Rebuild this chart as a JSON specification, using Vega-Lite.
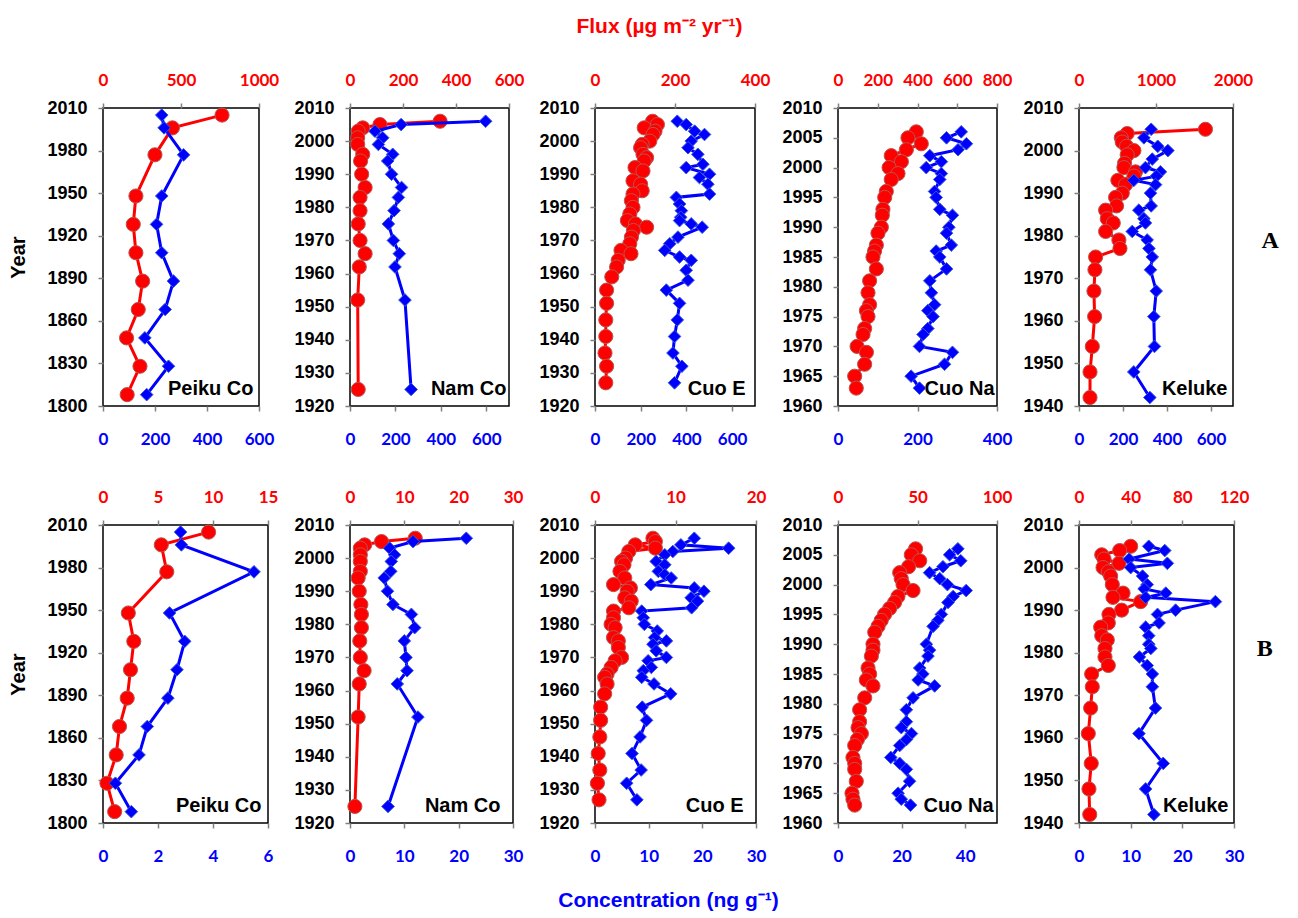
{
  "$schema": "https://vega.github.io/schema/vega-lite/v6.json",
  "padding": {"left": 8, "top": 14, "right": 5, "bottom": 5},
  "background": "#ffffff",
  "columns": 5,
  "bounds": "flush",
  "spacing": {"row": 119, "column": 82},
  "config": {
    "view": {"stroke": "#000000", "strokeWidth": 1.5},
    "mark": {"invalid": "filter"},
    "axis": {"domain": false, "grid": false, "ticks": true, "tickColor": "#808080", "tickWidth": 1.5, "tickSize": 5, "labelFontWeight": "bold", "labelOverlap": false, "labelFlush": false, "format": "d"},
    "axisY": {"labelFont": "Liberation Sans", "labelFontSize": 18, "labelColor": "#000000", "labelPadding": 11, "titleFont": "Liberation Sans", "titleFontSize": 20, "titleFontWeight": "bold", "titleColor": "#000000", "titlePadding": 18},
    "axisX": {"labelFont": "Lato", "labelFontSize": 17},
    "axisBottom": {"labelColor": "#0000ff", "labelPadding": 20, "titleFont": "Liberation Sans", "titleFontSize": 20, "titleFontWeight": "bold", "titleColor": "#000000", "titleAlign": "right", "titleBaseline": "bottom", "titleY": -8},
    "axisTop": {"labelColor": "#ff0000", "labelPadding": 14}
  },
  "concat": [
    {
      "width": 156, "height": 298,
      "data": {"values": [
        {"year": 2005, "flux": 763, "conc": 226}, {"year": 1996, "flux": 445, "conc": 235}, {"year": 1977, "flux": 333, "conc": 310},
        {"year": 1948, "flux": 211, "conc": 226}, {"year": 1928, "flux": 194, "conc": 206}, {"year": 1908, "flux": 211, "conc": 226},
        {"year": 1888, "flux": 254, "conc": 271}, {"year": 1868, "flux": 226, "conc": 239}, {"year": 1848, "flux": 151, "conc": 161},
        {"year": 1828, "flux": 237, "conc": 252}, {"year": 1808, "flux": 155, "conc": 168}
      ]},
      "encoding": {"y": {"field": "year", "type": "quantitative", "scale": {"domain": [1800, 2010], "nice": false, "zero": false}, "axis": {"values": [1800, 1830, 1860, 1890, 1920, 1950, 1980, 2010], "title": "Year"}}},
      "layer": [
        {"encoding": {"x": {"field": "flux", "type": "quantitative", "scale": {"domain": [0, 1000], "nice": false}, "axis": {"orient": "top", "values": [0, 500, 1000], "title": null}}},
         "layer": [
          {"mark": {"type": "line", "color": "#ff0000", "strokeWidth": 3}, "encoding": {"order": {"field": "year"}}},
          {"mark": {"type": "point", "shape": "circle", "filled": true, "size": 200, "fill": "#ff0000", "stroke": "#b85450", "strokeWidth": 1, "opacity": 1}}
        ]},
        {"encoding": {"x": {"field": "conc", "type": "quantitative", "scale": {"domain": [0, 600], "nice": false}, "axis": {"orient": "bottom", "values": [0, 200, 400, 600], "title": "Peiku Co", "titleX": 150}}},
         "layer": [
          {"mark": {"type": "line", "color": "#0000ff", "strokeWidth": 3}, "encoding": {"order": {"field": "year"}}},
          {"mark": {"type": "point", "shape": "diamond", "filled": true, "size": 160, "fill": "#0000ff", "stroke": "#3a5ad8", "strokeWidth": 1, "opacity": 1}}
        ]}
      ],
      "resolve": {"scale": {"x": "independent"}}
    },
    {
      "width": 159, "height": 298,
      "data": {"values": [
        {"year": 2006, "flux": 340, "conc": 597}, {"year": 2005, "flux": 113, "conc": 225}, {"year": 2004, "flux": 48},
        {"year": 2003, "flux": 31, "conc": 110}, {"year": 2001, "flux": 29, "conc": 144}, {"year": 1999, "flux": 29, "conc": 125},
        {"year": 1996, "flux": 48, "conc": 188}, {"year": 1994, "flux": 40, "conc": 166}, {"year": 1990, "flux": 44, "conc": 183},
        {"year": 1986, "flux": 57, "conc": 227}, {"year": 1983, "flux": 38, "conc": 213}, {"year": 1979, "flux": 38, "conc": 194},
        {"year": 1975, "flux": 31, "conc": 169}, {"year": 1970, "flux": 38, "conc": 191}, {"year": 1966, "flux": 57, "conc": 217},
        {"year": 1962, "flux": 35, "conc": 198}, {"year": 1952, "flux": 29, "conc": 242}, {"year": 1925, "flux": 31, "conc": 269}
      ]},
      "encoding": {"y": {"field": "year", "type": "quantitative", "scale": {"domain": [1920, 2010], "nice": false, "zero": false}, "axis": {"values": [1920, 1930, 1940, 1950, 1960, 1970, 1980, 1990, 2000, 2010], "title": null}}},
      "layer": [
        {"encoding": {"x": {"field": "flux", "type": "quantitative", "scale": {"domain": [0, 600], "nice": false}, "axis": {"orient": "top", "values": [0, 200, 400, 600], "title": null}}},
         "layer": [
          {"mark": {"type": "line", "color": "#ff0000", "strokeWidth": 3}, "encoding": {"order": {"field": "year"}}},
          {"mark": {"type": "point", "shape": "circle", "filled": true, "size": 200, "fill": "#ff0000", "stroke": "#b85450", "strokeWidth": 1, "opacity": 1}}
        ]},
        {"encoding": {"x": {"field": "conc", "type": "quantitative", "scale": {"domain": [0, 700], "nice": false}, "axis": {"orient": "bottom", "values": [0, 200, 400, 600], "title": "Nam Co", "titleX": 156}}},
         "layer": [
          {"mark": {"type": "line", "color": "#0000ff", "strokeWidth": 3}, "encoding": {"order": {"field": "year"}}},
          {"mark": {"type": "point", "shape": "diamond", "filled": true, "size": 160, "fill": "#0000ff", "stroke": "#3a5ad8", "strokeWidth": 1, "opacity": 1}}
        ]}
      ],
      "resolve": {"scale": {"x": "independent"}}
    },
    {
      "width": 160, "height": 298,
      "data": {"values": [
        {"year": 2006, "flux": 144, "conc": 360}, {"year": 2005, "flux": 156, "conc": 399}, {"year": 2004, "flux": 123},
        {"year": 2003, "flux": 150, "conc": 436}, {"year": 2002, "flux": 145, "conc": 479}, {"year": 2000, "flux": 137, "conc": 421},
        {"year": 1999, "flux": 118}, {"year": 1998, "flux": 114, "conc": 407}, {"year": 1996, "flux": 120, "conc": 450},
        {"year": 1995, "flux": 129}, {"year": 1994, "flux": 123}, {"year": 1993, "conc": 472},
        {"year": 1992, "flux": 100, "conc": 399}, {"year": 1991, "flux": 120}, {"year": 1990, "conc": 501},
        {"year": 1989, "conc": 457}, {"year": 1988, "flux": 95}, {"year": 1987, "flux": 114, "conc": 494},
        {"year": 1985, "flux": 118}, {"year": 1984, "flux": 95, "conc": 501}, {"year": 1983, "conc": 356},
        {"year": 1982, "flux": 91}, {"year": 1981, "conc": 370}, {"year": 1980, "flux": 95},
        {"year": 1979, "conc": 378}, {"year": 1978, "flux": 87}, {"year": 1977, "conc": 375},
        {"year": 1976, "flux": 81, "conc": 370}, {"year": 1975, "flux": 101, "conc": 421}, {"year": 1974, "flux": 129, "conc": 469},
        {"year": 1973, "flux": 96}, {"year": 1971, "flux": 91, "conc": 363}, {"year": 1969, "flux": 87, "conc": 327},
        {"year": 1967, "flux": 65, "conc": 305}, {"year": 1966, "flux": 90}, {"year": 1965, "conc": 370},
        {"year": 1964, "flux": 58, "conc": 421}, {"year": 1962, "flux": 54}, {"year": 1961, "conc": 399},
        {"year": 1959, "flux": 42}, {"year": 1958, "conc": 407}, {"year": 1955, "flux": 29, "conc": 312},
        {"year": 1951, "flux": 29, "conc": 370}, {"year": 1946, "flux": 27, "conc": 360}, {"year": 1941, "flux": 27, "conc": 348},
        {"year": 1936, "flux": 25, "conc": 341}, {"year": 1932, "flux": 29, "conc": 380}, {"year": 1927, "flux": 27, "conc": 348}
      ]},
      "encoding": {"y": {"field": "year", "type": "quantitative", "scale": {"domain": [1920, 2010], "nice": false, "zero": false}, "axis": {"values": [1920, 1930, 1940, 1950, 1960, 1970, 1980, 1990, 2000, 2010], "title": null}}},
      "layer": [
        {"encoding": {"x": {"field": "flux", "type": "quantitative", "scale": {"domain": [0, 400], "nice": false}, "axis": {"orient": "top", "values": [0, 200, 400], "title": "Flux (µg m⁻² yr⁻¹)", "titleColor": "#ff0000", "titleFont": "Liberation Sans", "titleFontSize": 21, "titleFontWeight": "bold", "titleX": 64, "titleY": -82, "titleAlign": "center", "titleBaseline": "middle"}}},
         "layer": [
          {"mark": {"type": "line", "color": "#ff0000", "strokeWidth": 3}, "encoding": {"order": {"field": "year"}}},
          {"mark": {"type": "point", "shape": "circle", "filled": true, "size": 200, "fill": "#ff0000", "stroke": "#b85450", "strokeWidth": 1, "opacity": 1}}
        ]},
        {"encoding": {"x": {"field": "conc", "type": "quantitative", "scale": {"domain": [0, 700], "nice": false}, "axis": {"orient": "bottom", "values": [0, 200, 400, 600], "title": "Cuo E", "titleX": 150}}},
         "layer": [
          {"mark": {"type": "line", "color": "#0000ff", "strokeWidth": 3}, "encoding": {"order": {"field": "year"}}},
          {"mark": {"type": "point", "shape": "diamond", "filled": true, "size": 160, "fill": "#0000ff", "stroke": "#3a5ad8", "strokeWidth": 1, "opacity": 1}}
        ]}
      ],
      "resolve": {"scale": {"x": "independent"}}
    },
    {
      "width": 159, "height": 298,
      "data": {"values": [
        {"year": 2006, "flux": 394, "conc": 310}, {"year": 2005, "flux": 352, "conc": 273}, {"year": 2004, "flux": 419, "conc": 323},
        {"year": 2003, "flux": 344, "conc": 302}, {"year": 2002, "flux": 268, "conc": 231}, {"year": 2001, "flux": 319, "conc": 260},
        {"year": 2000, "flux": 257, "conc": 222}, {"year": 1999, "flux": 302, "conc": 260}, {"year": 1998, "flux": 268, "conc": 256},
        {"year": 1996, "flux": 243, "conc": 243}, {"year": 1995, "flux": 235, "conc": 247}, {"year": 1993, "flux": 226, "conc": 256},
        {"year": 1992, "flux": 223, "conc": 288}, {"year": 1990, "flux": 218, "conc": 279}, {"year": 1989, "flux": 201, "conc": 273},
        {"year": 1987, "flux": 193, "conc": 285}, {"year": 1986, "flux": 184, "conc": 247}, {"year": 1985, "flux": 176, "conc": 256},
        {"year": 1983, "flux": 193, "conc": 273}, {"year": 1981, "flux": 159, "conc": 231}, {"year": 1979, "flux": 151, "conc": 235},
        {"year": 1977, "flux": 159, "conc": 243}, {"year": 1976, "flux": 143, "conc": 226}, {"year": 1975, "flux": 151, "conc": 239},
        {"year": 1973, "flux": 134, "conc": 226}, {"year": 1972, "flux": 126, "conc": 214}, {"year": 1970, "flux": 96, "conc": 205},
        {"year": 1969, "flux": 143, "conc": 288}, {"year": 1967, "flux": 134, "conc": 268}, {"year": 1965, "flux": 84, "conc": 184},
        {"year": 1963, "flux": 92, "conc": 205}
      ]},
      "encoding": {"y": {"field": "year", "type": "quantitative", "scale": {"domain": [1960, 2010], "nice": false, "zero": false}, "axis": {"values": [1960, 1965, 1970, 1975, 1980, 1985, 1990, 1995, 2000, 2005, 2010], "title": null}}},
      "layer": [
        {"encoding": {"x": {"field": "flux", "type": "quantitative", "scale": {"domain": [0, 800], "nice": false}, "axis": {"orient": "top", "values": [0, 200, 400, 600, 800], "title": null}}},
         "layer": [
          {"mark": {"type": "line", "color": "#ff0000", "strokeWidth": 3}, "encoding": {"order": {"field": "year"}}},
          {"mark": {"type": "point", "shape": "circle", "filled": true, "size": 200, "fill": "#ff0000", "stroke": "#b85450", "strokeWidth": 1, "opacity": 1}}
        ]},
        {"encoding": {"x": {"field": "conc", "type": "quantitative", "scale": {"domain": [0, 400], "nice": false}, "axis": {"orient": "bottom", "values": [0, 200, 400], "title": "Cuo Na", "titleX": 156}}},
         "layer": [
          {"mark": {"type": "line", "color": "#0000ff", "strokeWidth": 3}, "encoding": {"order": {"field": "year"}}},
          {"mark": {"type": "point", "shape": "diamond", "filled": true, "size": 160, "fill": "#0000ff", "stroke": "#3a5ad8", "strokeWidth": 1, "opacity": 1}}
        ]}
      ],
      "resolve": {"scale": {"x": "independent"}}
    },
    {
      "width": 154, "height": 298,
      "title": {"text": "A", "orient": "right", "angle": 0, "anchor": "middle", "frame": "group", "offset": 0, "font": "Liberation Serif", "fontSize": 24, "fontWeight": "bold", "color": "#000000", "dy": -28},
      "data": {"values": [
        {"year": 2005, "flux": 1642, "conc": 328}, {"year": 2004, "flux": 626}, {"year": 2003, "flux": 549, "conc": 295},
        {"year": 2002, "flux": 562}, {"year": 2001, "flux": 618, "conc": 358}, {"year": 2000, "flux": 713, "conc": 404},
        {"year": 1999, "flux": 626}, {"year": 1998, "conc": 333}, {"year": 1997, "flux": 592},
        {"year": 1996, "flux": 583, "conc": 302}, {"year": 1995, "flux": 734, "conc": 370}, {"year": 1994, "flux": 713, "conc": 352},
        {"year": 1993, "flux": 505, "conc": 249}, {"year": 1992, "flux": 605, "conc": 348}, {"year": 1990, "flux": 562, "conc": 325},
        {"year": 1989, "flux": 475}, {"year": 1987, "flux": 488, "conc": 328}, {"year": 1986, "flux": 346, "conc": 272},
        {"year": 1984, "flux": 367, "conc": 295}, {"year": 1983, "flux": 445, "conc": 302}, {"year": 1981, "flux": 346, "conc": 242},
        {"year": 1979, "flux": 518, "conc": 310}, {"year": 1977, "flux": 532, "conc": 318}, {"year": 1975, "flux": 216, "conc": 333},
        {"year": 1972, "flux": 207, "conc": 325}, {"year": 1967, "flux": 194, "conc": 351}, {"year": 1961, "flux": 203, "conc": 340},
        {"year": 1954, "flux": 173, "conc": 343}, {"year": 1948, "flux": 143, "conc": 249}, {"year": 1942, "flux": 143, "conc": 322}
      ]},
      "encoding": {"y": {"field": "year", "type": "quantitative", "scale": {"domain": [1940, 2010], "nice": false, "zero": false}, "axis": {"values": [1940, 1950, 1960, 1970, 1980, 1990, 2000, 2010], "title": null}}},
      "layer": [
        {"encoding": {"x": {"field": "flux", "type": "quantitative", "scale": {"domain": [0, 2000], "nice": false}, "axis": {"orient": "top", "values": [0, 1000, 2000], "title": null}}},
         "layer": [
          {"mark": {"type": "line", "color": "#ff0000", "strokeWidth": 3}, "encoding": {"order": {"field": "year"}}},
          {"mark": {"type": "point", "shape": "circle", "filled": true, "size": 200, "fill": "#ff0000", "stroke": "#b85450", "strokeWidth": 1, "opacity": 1}}
        ]},
        {"encoding": {"x": {"field": "conc", "type": "quantitative", "scale": {"domain": [0, 700], "nice": false}, "axis": {"orient": "bottom", "values": [0, 200, 400, 600], "title": "Keluke", "titleX": 148}}},
         "layer": [
          {"mark": {"type": "line", "color": "#0000ff", "strokeWidth": 3}, "encoding": {"order": {"field": "year"}}},
          {"mark": {"type": "point", "shape": "diamond", "filled": true, "size": 160, "fill": "#0000ff", "stroke": "#3a5ad8", "strokeWidth": 1, "opacity": 1}}
        ]}
      ],
      "resolve": {"scale": {"x": "independent"}}
    },
    {
      "width": 165, "height": 298,
      "data": {"values": [
        {"year": 2005, "flux": 9.6, "conc": 2.82}, {"year": 1996, "flux": 5.3, "conc": 2.85}, {"year": 1977, "flux": 5.8, "conc": 5.49},
        {"year": 1948, "flux": 2.3, "conc": 2.42}, {"year": 1928, "flux": 2.8, "conc": 2.97}, {"year": 1908, "flux": 2.5, "conc": 2.69},
        {"year": 1888, "flux": 2.2, "conc": 2.36}, {"year": 1868, "flux": 1.5, "conc": 1.61}, {"year": 1848, "flux": 1.2, "conc": 1.31},
        {"year": 1828, "flux": 0.36, "conc": 0.45}, {"year": 1808, "flux": 1.06, "conc": 1.03}
      ]},
      "encoding": {"y": {"field": "year", "type": "quantitative", "scale": {"domain": [1800, 2010], "nice": false, "zero": false}, "axis": {"values": [1800, 1830, 1860, 1890, 1920, 1950, 1980, 2010], "title": "Year"}}},
      "layer": [
        {"encoding": {"x": {"field": "flux", "type": "quantitative", "scale": {"domain": [0, 15], "nice": false}, "axis": {"orient": "top", "values": [0, 5, 10, 15], "title": null}}},
         "layer": [
          {"mark": {"type": "line", "color": "#ff0000", "strokeWidth": 3}, "encoding": {"order": {"field": "year"}}},
          {"mark": {"type": "point", "shape": "circle", "filled": true, "size": 200, "fill": "#ff0000", "stroke": "#b85450", "strokeWidth": 1, "opacity": 1}}
        ]},
        {"encoding": {"x": {"field": "conc", "type": "quantitative", "scale": {"domain": [0, 6], "nice": false}, "axis": {"orient": "bottom", "values": [0, 2, 4, 6], "title": "Peiku Co", "titleX": 158}}},
         "layer": [
          {"mark": {"type": "line", "color": "#0000ff", "strokeWidth": 3}, "encoding": {"order": {"field": "year"}}},
          {"mark": {"type": "point", "shape": "diamond", "filled": true, "size": 160, "fill": "#0000ff", "stroke": "#3a5ad8", "strokeWidth": 1, "opacity": 1}}
        ]}
      ],
      "resolve": {"scale": {"x": "independent"}}
    },
    {
      "width": 163, "height": 298,
      "data": {"values": [
        {"year": 2006, "flux": 12.0, "conc": 21.4}, {"year": 2005, "flux": 5.8, "conc": 11.6}, {"year": 2004, "flux": 2.7},
        {"year": 2003, "flux": 1.9, "conc": 7.3}, {"year": 2001, "flux": 1.9, "conc": 8.2}, {"year": 1999, "flux": 1.9, "conc": 7.6},
        {"year": 1996, "flux": 1.9, "conc": 7.5}, {"year": 1994, "flux": 1.5, "conc": 6.3}, {"year": 1990, "flux": 1.7, "conc": 6.9},
        {"year": 1986, "flux": 2.0, "conc": 7.9}, {"year": 1983, "flux": 2.1, "conc": 11.3}, {"year": 1979, "flux": 2.1, "conc": 11.9},
        {"year": 1975, "flux": 1.8, "conc": 10.0}, {"year": 1970, "flux": 1.9, "conc": 10.3}, {"year": 1966, "flux": 2.6, "conc": 10.5},
        {"year": 1962, "flux": 1.7, "conc": 8.7}, {"year": 1952, "flux": 1.5, "conc": 12.5}, {"year": 1925, "flux": 0.9, "conc": 7.0}
      ]},
      "encoding": {"y": {"field": "year", "type": "quantitative", "scale": {"domain": [1920, 2010], "nice": false, "zero": false}, "axis": {"values": [1920, 1930, 1940, 1950, 1960, 1970, 1980, 1990, 2000, 2010], "title": null}}},
      "layer": [
        {"encoding": {"x": {"field": "flux", "type": "quantitative", "scale": {"domain": [0, 30], "nice": false}, "axis": {"orient": "top", "values": [0, 10, 20, 30], "title": null}}},
         "layer": [
          {"mark": {"type": "line", "color": "#ff0000", "strokeWidth": 3}, "encoding": {"order": {"field": "year"}}},
          {"mark": {"type": "point", "shape": "circle", "filled": true, "size": 200, "fill": "#ff0000", "stroke": "#b85450", "strokeWidth": 1, "opacity": 1}}
        ]},
        {"encoding": {"x": {"field": "conc", "type": "quantitative", "scale": {"domain": [0, 30], "nice": false}, "axis": {"orient": "bottom", "values": [0, 10, 20, 30], "title": "Nam Co", "titleX": 150}}},
         "layer": [
          {"mark": {"type": "line", "color": "#0000ff", "strokeWidth": 3}, "encoding": {"order": {"field": "year"}}},
          {"mark": {"type": "point", "shape": "diamond", "filled": true, "size": 160, "fill": "#0000ff", "stroke": "#3a5ad8", "strokeWidth": 1, "opacity": 1}}
        ]}
      ],
      "resolve": {"scale": {"x": "independent"}}
    },
    {
      "width": 161, "height": 298,
      "data": {"values": [
        {"year": 2006, "flux": 7.2, "conc": 18.5}, {"year": 2005, "flux": 7.5}, {"year": 2004, "flux": 5.0, "conc": 16.0},
        {"year": 2003, "flux": 7.5, "conc": 24.9}, {"year": 2002, "flux": 4.2, "conc": 14.5}, {"year": 2001, "conc": 13.0},
        {"year": 2000, "flux": 3.8}, {"year": 1999, "flux": 3.3, "conc": 11.4}, {"year": 1998, "flux": 3.6, "conc": 13.0},
        {"year": 1996, "flux": 3.1, "conc": 11.8}, {"year": 1995, "conc": 13.0}, {"year": 1994, "flux": 3.7, "conc": 14.2},
        {"year": 1992, "flux": 2.3, "conc": 10.4}, {"year": 1991, "flux": 4.4, "conc": 18.5}, {"year": 1990, "flux": 4.0, "conc": 20.3},
        {"year": 1988, "flux": 3.7, "conc": 17.9}, {"year": 1987, "flux": 4.5, "conc": 19.1}, {"year": 1985, "flux": 4.2, "conc": 18.0},
        {"year": 1984, "flux": 2.3, "conc": 8.7}, {"year": 1982, "flux": 2.3, "conc": 9.0}, {"year": 1980, "flux": 2.0, "conc": 9.2},
        {"year": 1979, "flux": 2.5}, {"year": 1978, "conc": 11.6}, {"year": 1976, "flux": 2.3, "conc": 11.1},
        {"year": 1975, "flux": 2.9, "conc": 13.3}, {"year": 1974, "conc": 10.8}, {"year": 1973, "flux": 2.9},
        {"year": 1972, "conc": 11.4}, {"year": 1970, "flux": 3.3, "conc": 13.3}, {"year": 1969, "flux": 2.5, "conc": 9.9},
        {"year": 1967, "flux": 2.0, "conc": 10.5}, {"year": 1966, "conc": 9.0}, {"year": 1965, "flux": 1.5},
        {"year": 1964, "flux": 1.2, "conc": 8.7}, {"year": 1962, "flux": 1.5, "conc": 11.0}, {"year": 1959, "flux": 1.2, "conc": 14.1},
        {"year": 1955, "flux": 0.7, "conc": 8.8}, {"year": 1951, "flux": 0.7, "conc": 9.6}, {"year": 1946, "flux": 0.6, "conc": 8.4},
        {"year": 1941, "flux": 0.4, "conc": 6.9}, {"year": 1936, "flux": 0.6, "conc": 8.6}, {"year": 1932, "flux": 0.3, "conc": 5.9},
        {"year": 1927, "flux": 0.5, "conc": 7.8}
      ]},
      "encoding": {"y": {"field": "year", "type": "quantitative", "scale": {"domain": [1920, 2010], "nice": false, "zero": false}, "axis": {"values": [1920, 1930, 1940, 1950, 1960, 1970, 1980, 1990, 2000, 2010], "title": "Concentration (ng g⁻¹)", "titleAngle": 0, "titleColor": "#0000ff", "titleFontSize": 21, "titleX": 73, "titleY": 375, "titleAlign": "center", "titleBaseline": "middle"}}},
      "layer": [
        {"encoding": {"x": {"field": "flux", "type": "quantitative", "scale": {"domain": [0, 20], "nice": false}, "axis": {"orient": "top", "values": [0, 10, 20], "title": null}}},
         "layer": [
          {"mark": {"type": "line", "color": "#ff0000", "strokeWidth": 3}, "encoding": {"order": {"field": "year"}}},
          {"mark": {"type": "point", "shape": "circle", "filled": true, "size": 200, "fill": "#ff0000", "stroke": "#b85450", "strokeWidth": 1, "opacity": 1}}
        ]},
        {"encoding": {"x": {"field": "conc", "type": "quantitative", "scale": {"domain": [0, 30], "nice": false}, "axis": {"orient": "bottom", "values": [0, 10, 20, 30], "title": "Cuo E", "titleX": 148}}},
         "layer": [
          {"mark": {"type": "line", "color": "#0000ff", "strokeWidth": 3}, "encoding": {"order": {"field": "year"}}},
          {"mark": {"type": "point", "shape": "diamond", "filled": true, "size": 160, "fill": "#0000ff", "stroke": "#3a5ad8", "strokeWidth": 1, "opacity": 1}}
        ]}
      ],
      "resolve": {"scale": {"x": "independent"}}
    },
    {
      "width": 159, "height": 298,
      "data": {"values": [
        {"year": 2006, "flux": 48.8, "conc": 37.7}, {"year": 2005, "flux": 46.1, "conc": 35.1}, {"year": 2004, "flux": 51.4, "conc": 38.6},
        {"year": 2003, "flux": 44.4, "conc": 33.0}, {"year": 2002, "flux": 38.8, "conc": 28.8}, {"year": 2001, "flux": 39.8, "conc": 32.0},
        {"year": 2000, "flux": 40.9, "conc": 34.4}, {"year": 1999, "flux": 47.2, "conc": 40.3}, {"year": 1998, "flux": 37.7, "conc": 36.2},
        {"year": 1997, "flux": 35.6, "conc": 34.6}, {"year": 1996, "flux": 32.5}, {"year": 1995, "flux": 29.3, "conc": 32.5},
        {"year": 1994, "flux": 27.2, "conc": 31.4}, {"year": 1993, "flux": 25.2, "conc": 29.9}, {"year": 1992, "flux": 23.1},
        {"year": 1990, "flux": 22.0, "conc": 27.8}, {"year": 1989, "flux": 22.0, "conc": 28.8}, {"year": 1988, "flux": 21.0, "conc": 28.3},
        {"year": 1986, "flux": 18.9, "conc": 25.7}, {"year": 1985, "flux": 19.9, "conc": 26.7}, {"year": 1984, "flux": 17.8, "conc": 25.2},
        {"year": 1983, "flux": 22.0, "conc": 30.4}, {"year": 1981, "flux": 16.8, "conc": 23.6}, {"year": 1979, "flux": 13.6, "conc": 21.5},
        {"year": 1977, "flux": 13.6, "conc": 21.5}, {"year": 1976, "flux": 12.6, "conc": 19.9}, {"year": 1975, "flux": 14.7, "conc": 23.1},
        {"year": 1974, "flux": 12.2, "conc": 21.5}, {"year": 1973, "flux": 10.5, "conc": 19.4}, {"year": 1971, "flux": 9.4, "conc": 16.6},
        {"year": 1970, "flux": 10.5, "conc": 19.4}, {"year": 1969, "flux": 10.5, "conc": 21.5}, {"year": 1967, "flux": 11.5, "conc": 22.5},
        {"year": 1965, "flux": 8.8, "conc": 18.9}, {"year": 1964, "flux": 9.4, "conc": 19.9}, {"year": 1963, "flux": 10.5, "conc": 22.8}
      ]},
      "encoding": {"y": {"field": "year", "type": "quantitative", "scale": {"domain": [1960, 2010], "nice": false, "zero": false}, "axis": {"values": [1960, 1965, 1970, 1975, 1980, 1985, 1990, 1995, 2000, 2005, 2010], "title": null}}},
      "layer": [
        {"encoding": {"x": {"field": "flux", "type": "quantitative", "scale": {"domain": [0, 100], "nice": false}, "axis": {"orient": "top", "values": [0, 50, 100], "title": null}}},
         "layer": [
          {"mark": {"type": "line", "color": "#ff0000", "strokeWidth": 3}, "encoding": {"order": {"field": "year"}}},
          {"mark": {"type": "point", "shape": "circle", "filled": true, "size": 200, "fill": "#ff0000", "stroke": "#b85450", "strokeWidth": 1, "opacity": 1}}
        ]},
        {"encoding": {"x": {"field": "conc", "type": "quantitative", "scale": {"domain": [0, 50], "nice": false}, "axis": {"orient": "bottom", "values": [0, 20, 40], "title": "Cuo Na", "titleX": 155}}},
         "layer": [
          {"mark": {"type": "line", "color": "#0000ff", "strokeWidth": 3}, "encoding": {"order": {"field": "year"}}},
          {"mark": {"type": "point", "shape": "diamond", "filled": true, "size": 160, "fill": "#0000ff", "stroke": "#3a5ad8", "strokeWidth": 1, "opacity": 1}}
        ]}
      ],
      "resolve": {"scale": {"x": "independent"}}
    },
    {
      "width": 155, "height": 298,
      "title": {"text": "B", "orient": "right", "angle": 0, "anchor": "middle", "frame": "group", "offset": 0, "font": "Liberation Serif", "fontSize": 24, "fontWeight": "bold", "color": "#000000", "dy": -37},
      "data": {"values": [
        {"year": 2005, "flux": 40.0, "conc": 13.5}, {"year": 2004, "flux": 31.5, "conc": 16.6}, {"year": 2003, "flux": 17.6},
        {"year": 2002, "flux": 19.4, "conc": 9.7}, {"year": 2001, "flux": 31.0, "conc": 17.1}, {"year": 2000, "flux": 18.6, "conc": 10.0},
        {"year": 1999, "flux": 22.7}, {"year": 1998, "flux": 24.5, "conc": 12.3}, {"year": 1996, "flux": 25.8, "conc": 13.2},
        {"year": 1995, "conc": 12.6}, {"year": 1994, "flux": 34.1, "conc": 16.8}, {"year": 1993, "flux": 26.3, "conc": 12.9},
        {"year": 1992, "flux": 47.7, "conc": 26.4}, {"year": 1990, "flux": 33.0, "conc": 18.7}, {"year": 1989, "flux": 23.2, "conc": 15.2},
        {"year": 1987, "flux": 22.7, "conc": 15.5}, {"year": 1986, "flux": 16.8, "conc": 12.9}, {"year": 1984, "flux": 17.6, "conc": 13.5},
        {"year": 1983, "flux": 21.9}, {"year": 1982, "conc": 13.5}, {"year": 1981, "flux": 20.1, "conc": 13.9},
        {"year": 1979, "flux": 20.1, "conc": 11.7}, {"year": 1977, "flux": 22.7, "conc": 13.2}, {"year": 1975, "flux": 9.8, "conc": 14.2},
        {"year": 1972, "flux": 10.3, "conc": 14.2}, {"year": 1967, "flux": 9.0, "conc": 14.8}, {"year": 1961, "flux": 7.2, "conc": 11.6},
        {"year": 1954, "flux": 9.5, "conc": 16.3}, {"year": 1948, "flux": 7.7, "conc": 12.9}, {"year": 1942, "flux": 8.3, "conc": 14.5}
      ]},
      "encoding": {"y": {"field": "year", "type": "quantitative", "scale": {"domain": [1940, 2010], "nice": false, "zero": false}, "axis": {"values": [1940, 1950, 1960, 1970, 1980, 1990, 2000, 2010], "title": null}}},
      "layer": [
        {"encoding": {"x": {"field": "flux", "type": "quantitative", "scale": {"domain": [0, 120], "nice": false}, "axis": {"orient": "top", "values": [0, 40, 80, 120], "title": null}}},
         "layer": [
          {"mark": {"type": "line", "color": "#ff0000", "strokeWidth": 3}, "encoding": {"order": {"field": "year"}}},
          {"mark": {"type": "point", "shape": "circle", "filled": true, "size": 200, "fill": "#ff0000", "stroke": "#b85450", "strokeWidth": 1, "opacity": 1}}
        ]},
        {"encoding": {"x": {"field": "conc", "type": "quantitative", "scale": {"domain": [0, 30], "nice": false}, "axis": {"orient": "bottom", "values": [0, 10, 20, 30], "title": "Keluke", "titleX": 149}}},
         "layer": [
          {"mark": {"type": "line", "color": "#0000ff", "strokeWidth": 3}, "encoding": {"order": {"field": "year"}}},
          {"mark": {"type": "point", "shape": "diamond", "filled": true, "size": 160, "fill": "#0000ff", "stroke": "#3a5ad8", "strokeWidth": 1, "opacity": 1}}
        ]}
      ],
      "resolve": {"scale": {"x": "independent"}}
    }
  ]
}
